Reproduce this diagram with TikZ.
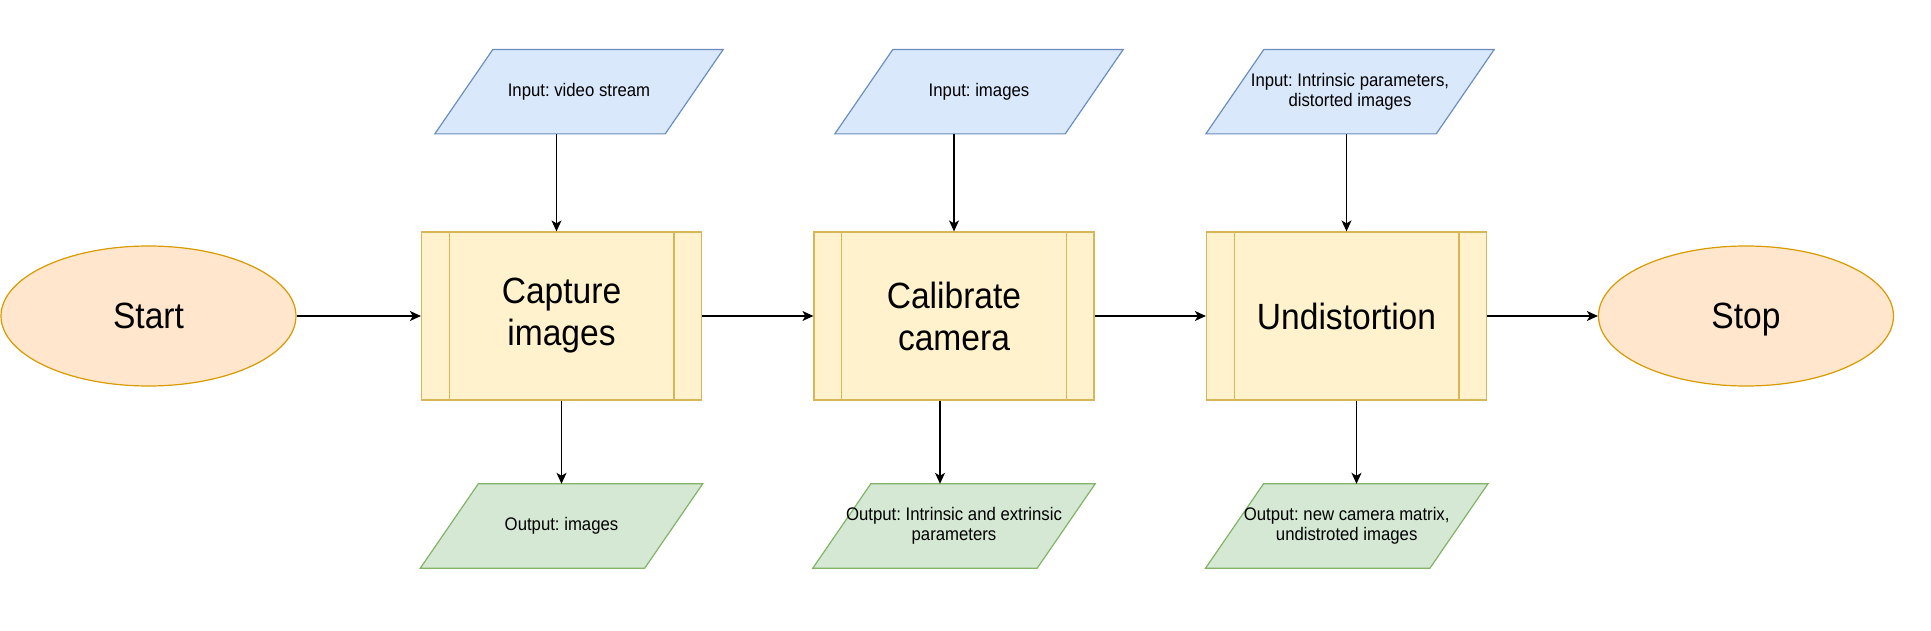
\documentclass[tikz,border=0pt]{standalone}
\usepackage{fontspec}
\setmainfont{Liberation Sans}[FakeStretch=0.92]
\usepackage{tikz}
\usetikzlibrary{arrows.meta,shapes.geometric,backgrounds}
\definecolor{termfill}{HTML}{FFE6CC}
\definecolor{termline}{HTML}{D79B00}
\definecolor{procfill}{HTML}{FFF2CC}
\definecolor{procline}{HTML}{D6B656}
\definecolor{inputfill}{HTML}{DAE8FC}
\definecolor{inputline}{HTML}{6C8EBF}
\definecolor{outputfill}{HTML}{D5E8D4}
\definecolor{outputline}{HTML}{82B366}
\frenchspacing

\begin{document}
\begin{tikzpicture}[x=1pt, y=-1pt,
    bigtext/.style={font=\fontsize{36.5}{42}\selectfont, align=center},
    smalltext/.style={font=\fontsize{18.2}{20}\selectfont, align=center},
    terminal/.style={ellipse, bigtext, text depth=0pt, fill=termfill, draw=termline, line width=1.2pt, minimum width=295pt, minimum height=140pt, inner sep=0pt},
    process/.style={rectangle, bigtext, fill=procfill, draw=procline, line width=1.2pt, minimum width=280pt, minimum height=168pt, inner sep=0pt,
        path picture={\draw[procline, line width=1.2pt]
            ([xshift=27.6pt]path picture bounding box.south west) -- ([xshift=27.6pt]path picture bounding box.north west)
            ([xshift=-27.6pt]path picture bounding box.south east) -- ([xshift=-27.6pt]path picture bounding box.north east);}},
    iobox/.style={smalltext, minimum height=84pt, inner sep=0pt},
    inshape/.style={fill=inputfill, draw=inputline, line width=1.2pt},
    outshape/.style={fill=outputfill, draw=outputline, line width=1.2pt},
    flow/.style={-{Stealth[length=11pt,width=10pt,inset=3pt]}, line width=1.2pt}]
    \useasboundingbox (0,0) rectangle (1931,631);

    % Terminals
    \node[terminal] (start) at (148.5,316) {Start};
    \node[terminal] (stop) at (1746,316) {Stop};

    % Processing steps
    \node[process] (cap) at (561.5,316) {Capture\\images};
    \node[process] (calib) at (954,316) {Calibrate\\camera};
    \node[process] (undist) at (1346.5,316) {Undistortion};

    % Inputs
    \node[iobox, minimum width=230pt] (in1) at (579,91.7) {Input: video stream};
    \node[iobox, minimum width=230pt] (in2) at (979,91.7) {Input: images};
    \node[iobox, minimum width=230pt] (in3) at (1350,91.7) {Input: Intrinsic parameters,\\distorted images};

    % Outputs
    \node[iobox, minimum width=224pt] (out1) at (561.5,526) {Output: images};
    \node[iobox, minimum width=224pt] (out2) at (954,526) {Output: Intrinsic and extrinsic\\parameters};
    \node[iobox, minimum width=224pt] (out3) at (1346.7,526) {Output: new camera matrix,\\undistroted images};

    % Parallelograms behind the io labels
    \begin{scope}[on background layer]
        \foreach \n/\s in {in1/inshape, in2/inshape, in3/inshape, out1/outshape, out2/outshape, out3/outshape}
            \draw[\s] ([xshift=-29pt]\n.south west) -- ([xshift=29pt]\n.north west) -- ([xshift=29pt]\n.north east) -- ([xshift=-29pt]\n.south east) -- cycle;
    \end{scope}

    % Main flow
    \draw[flow] (start) -- (cap);
    \draw[flow] (cap) -- (calib);
    \draw[flow] (calib) -- (undist);
    \draw[flow] (undist) -- (stop);

    % Input arrows
    \draw[flow] ([xshift=-5pt]cap.north |- in1.south) -- ([xshift=-5pt]cap.north);
    \draw[flow] (in2.south -| calib.north) -- (calib.north);
    \draw[flow] (in3.south -| undist.north) -- (undist.north);

    % Output arrows
    \draw[flow] (cap) -- (out1);
    \draw[flow] ([xshift=-14pt]calib.south) -- ([xshift=-14pt]calib.south |- out2.north);
    \draw[flow] ([xshift=10pt]undist.south) -- ([xshift=10pt]undist.south |- out3.north);
\end{tikzpicture}
\end{document}
